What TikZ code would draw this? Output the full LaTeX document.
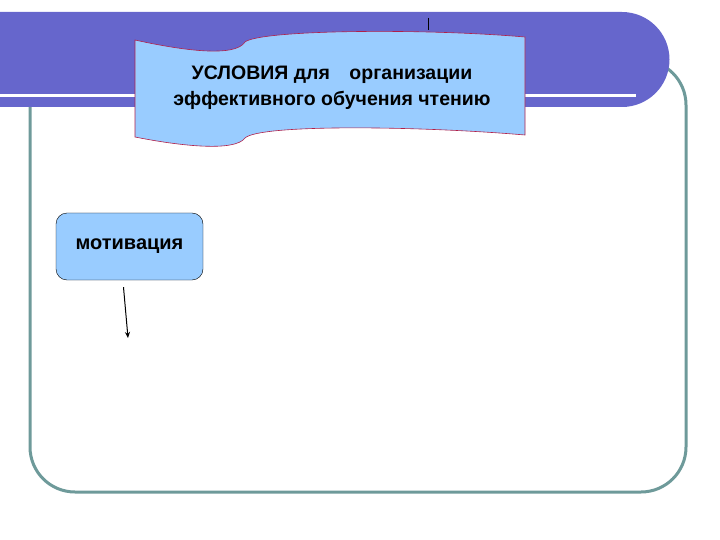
\documentclass[tikz,border=0pt]{standalone}
\usepackage{fontspec}
\setmainfont{Liberation Sans}
\usetikzlibrary{arrows.meta}
\definecolor{band}{HTML}{6666CC}
\definecolor{frame}{HTML}{6E9A9A}
\definecolor{lblue}{HTML}{99CCFF}
\definecolor{edge}{HTML}{B0204A}
\tikzset{boxstyle/.style={draw=black,fill=lblue,rounded corners=11pt,minimum width=147pt,minimum height=67pt,font=\bfseries\fontsize{20}{24}\selectfont}}
\begin{document}
\begin{tikzpicture}[x=1pt,y=-1pt]
\useasboundingbox (0,0) rectangle (720,540);
\draw[frame,line width=3pt,rounded corners=45pt] (30,60) rectangle (686,492);
\fill[band] (0,12) -- (622,12) arc[start angle=-90,end angle=90,radius=47.5] -- (0,107) -- cycle;
\draw[white,line width=3pt] (0,96) -- (636,96);
\draw[black,line width=0.6pt] (428,18) -- (428,30);
\draw[edge,fill=lblue,line width=0.6pt]
 (135,40) .. controls (180,50) and (235,58) .. (245,42)
 .. controls (260,30) and (420,28) .. (525,37)
 -- (525,135)
 .. controls (420,126) and (260,124) .. (245,138)
 .. controls (235,152) and (180,146) .. (135,137) -- cycle;
\node[font=\bfseries\fontsize{19.5}{26}\selectfont,align=center] (title) at (332,88) {УСЛОВИЯ для\quad организации\\эффективного обучения чтению};
\node[boxstyle] (mot) at (129.5,246.5) {мотивация};
\coordinate (end) at (128,338);
\draw[-{Stealth[length=6pt,width=5pt]},line width=1pt] ([xshift=-6pt,yshift=-7pt]mot.south) -- (end);
\end{tikzpicture}
\end{document}
